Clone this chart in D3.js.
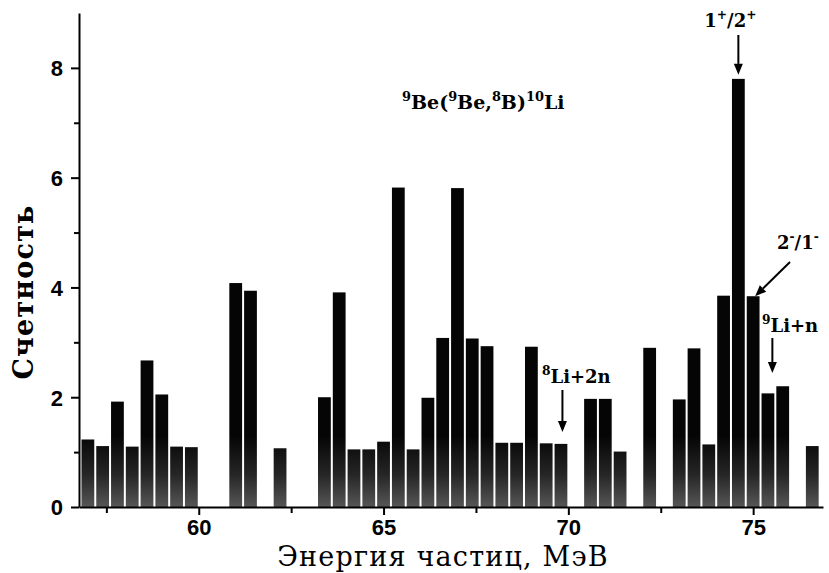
<!DOCTYPE html>
<html>
<head>
<meta charset="utf-8">
<script src="https://cdn.jsdelivr.net/npm/d3@7"></script>
<style>
  html, body { margin: 0; padding: 0; background: #fff; }
  svg { display: block; }
</style>
</head>
<body>
<svg id="chart" width="829" height="573"></svg>
<script>
// ---- data ----
const energies = [57.0, 57.4, 57.8, 58.2, 58.6, 59.0, 59.4, 59.8, 60.2, 60.6,
                  61.0, 61.4, 61.8, 62.2, 62.6, 63.0, 63.4, 63.8, 64.2, 64.6,
                  65.0, 65.4, 65.8, 66.2, 66.6, 67.0, 67.4, 67.8, 68.2, 68.6,
                  69.0, 69.4, 69.8, 70.2, 70.6, 71.0, 71.4, 71.8, 72.2, 72.6,
                  73.0, 73.4, 73.8, 74.2, 74.6, 75.0, 75.4, 75.8, 76.2, 76.6];
const counts   = [1.23, 1.11, 1.92, 1.10, 2.67, 2.05, 1.10, 1.09, 0, 0,
                  4.08, 3.94, 0, 1.07, 0, 0, 2.00, 3.91, 1.05, 1.05,
                  1.19, 5.82, 1.05, 1.99, 3.08, 5.81, 3.07, 2.93, 1.17, 1.17,
                  2.92, 1.16, 1.15, 0, 1.97, 1.97, 1.01, 0, 2.90, 0,
                  1.96, 2.89, 1.14, 3.85, 7.80, 3.84, 2.07, 2.20, 0, 1.11];
const binWidth = 0.4;
const xMajorTicks = [60, 65, 70, 75];
const xMinorTicks = [57.5, 62.5, 67.5, 72.5];
const yMajorTicks = [0, 2, 4, 6, 8];
const yMinorTicks = [1, 3, 5, 7];
const xTitle = "Энергия частиц, МэВ";
const yTitle = "Счетность";
// annotation texts (parts: [text, isSuperscript])
const reactionLabel = [["9", true], ["Be(", false], ["9", true], ["Be,", false], ["8", true], ["B)", false], ["10", true], ["Li", false]];
const peakLabel     = [["1", false], ["+", true], ["/2", false], ["+", true]];
const negLabel      = [["2", false], ["-", true], ["/1", false], ["-", true]];
const li9Label      = [["9", true], ["Li+n", false]];
const li8Label      = [["8", true], ["Li+2n", false]];
// energies / counts the arrows point to
const peakEnergy = 74.6, peakCount = 7.80;
const negEnergy = 75.0, negCount = 3.84;
const li9Energy = 75.52;
const li8Energy = 69.84;

// ---- scales ----
const svg = d3.select("#chart");
const x = d3.scaleLinear().domain([56.76, 76.89]).range([79, 823]);
const y = d3.scaleLinear().domain([0, 9]).range([507, 13]);

const data = energies.map((e, i) => ({ e, c: counts[i] })).filter(d => d.c > 0);

// gradient to mimic the scanned stipple at the bar bottoms
const defs = svg.append("defs");
const grad = defs.append("linearGradient")
  .attr("id", "barGrad").attr("gradientUnits", "userSpaceOnUse")
  .attr("x1", 0).attr("x2", 0).attr("y1", y(0)).attr("y2", y(1.3));
grad.append("stop").attr("offset", 0).attr("stop-color", "#565656");
grad.append("stop").attr("offset", 0.45).attr("stop-color", "#262626");
grad.append("stop").attr("offset", 1).attr("stop-color", "#050505");

svg.append("g").selectAll("rect").data(data).enter().append("rect")
  .attr("x", d => x(d.e - binWidth / 2) + 1)
  .attr("width", d => x(d.e + binWidth / 2) - x(d.e - binWidth / 2) - 2)
  .attr("y", d => y(d.c))
  .attr("height", d => y(0) - y(d.c))
  .attr("fill", "url(#barGrad)");

// ---- axes ----
function styleAxis(g) {
  g.selectAll("path.domain").attr("stroke", "#000").attr("stroke-width", 2);
  g.selectAll(".tick line").attr("stroke", "#000").attr("stroke-width", 2);
  g.selectAll(".tick text")
    .attr("fill", "#000")
    .style("font-family", "'Liberation Sans', Arial, sans-serif")
    .style("font-weight", "bold")
    .style("font-size", "22px");
}

const gx = svg.append("g").attr("transform", `translate(0,${y(0)})`)
  .call(d3.axisBottom(x).tickValues(xMajorTicks).tickFormat(d3.format("d"))
        .tickSize(8).tickSizeOuter(0).tickPadding(4));
styleAxis(gx);
const gxm = svg.append("g").attr("transform", `translate(0,${y(0)})`)
  .call(d3.axisBottom(x).tickValues(xMinorTicks).tickFormat("").tickSize(6).tickSizeOuter(0));
styleAxis(gxm);
gxm.select("path.domain").remove();

const gy = svg.append("g").attr("transform", `translate(${x.range()[0]},0)`)
  .call(d3.axisLeft(y).tickValues(yMajorTicks).tickFormat(d3.format("d"))
        .tickSize(8).tickSizeOuter(0).tickPadding(8));
styleAxis(gy);
gy.selectAll(".tick text").attr("dy", "0.36em");
const gym = svg.append("g").attr("transform", `translate(${x.range()[0]},0)`)
  .call(d3.axisLeft(y).tickValues(yMinorTicks).tickFormat("").tickSize(5).tickSizeOuter(0));
styleAxis(gym);
gym.select("path.domain").remove();

// ---- titles ----
const serif = "'DejaVu Serif', 'Liberation Serif', serif";
svg.append("text")
  .attr("x", 443).attr("y", 566)
  .attr("text-anchor", "middle")
  .style("font-family", serif).style("font-size", "27px")
  .style("letter-spacing", "1.2px")
  .attr("fill", "#000")
  .text(xTitle);

svg.append("text")
  .attr("transform", "translate(33,292) rotate(-90)")
  .attr("text-anchor", "middle")
  .style("font-family", serif).style("font-size", "27px")
  .style("font-weight", "bold")
  .style("letter-spacing", "1.2px")
  .attr("fill", "#000")
  .text(yTitle);

// ---- annotations ----
function richText(parts, px, py, size, anchor) {
  const t = svg.append("text")
    .attr("x", px).attr("y", py)
    .attr("text-anchor", anchor || "start")
    .style("font-family", serif).style("font-weight", "bold")
    .style("font-size", size + "px").attr("fill", "#000");
  let raised = false;
  parts.forEach(([s, sup]) => {
    const ts = t.append("tspan").text(s);
    if (sup && !raised) { ts.attr("dy", -size * 0.42).style("font-size", (size * 0.68) + "px"); raised = true; }
    else if (sup && raised) { ts.style("font-size", (size * 0.68) + "px"); }
    else if (!sup && raised) { ts.attr("dy", size * 0.42); raised = false; }
  });
  return t;
}

function arrow(x1, y1, x2, y2) {
  const ang = Math.atan2(y2 - y1, x2 - x1);
  const hl = 11, hw = 4.5;
  const bx = x2 - hl * Math.cos(ang), by = y2 - hl * Math.sin(ang);
  svg.append("line")
    .attr("x1", x1).attr("y1", y1).attr("x2", bx).attr("y2", by)
    .attr("stroke", "#000").attr("stroke-width", 2);
  const px = -Math.sin(ang), py = Math.cos(ang);
  svg.append("path")
    .attr("d", `M${x2},${y2} L${bx + px * hw},${by + py * hw} L${bx - px * hw},${by - py * hw} Z`)
    .attr("fill", "#000");
}

richText(reactionLabel, 402, 109, 19, "start");

richText(peakLabel, x(peakEnergy) - 8, 27, 18, "middle");
arrow(x(peakEnergy), 35, x(peakEnergy), y(peakCount) - 4);

richText(negLabel, 777, 249, 18, "start");
arrow(790, 262, x(negEnergy) + 2, y(negCount));

richText(li9Label, 762, 332, 18, "start");
arrow(x(li9Energy), 338, x(li9Energy), 373);

richText(li8Label, 542, 383, 18, "start");
arrow(x(li8Energy), 390, x(li8Energy), 432);
</script>
</body>
</html>
